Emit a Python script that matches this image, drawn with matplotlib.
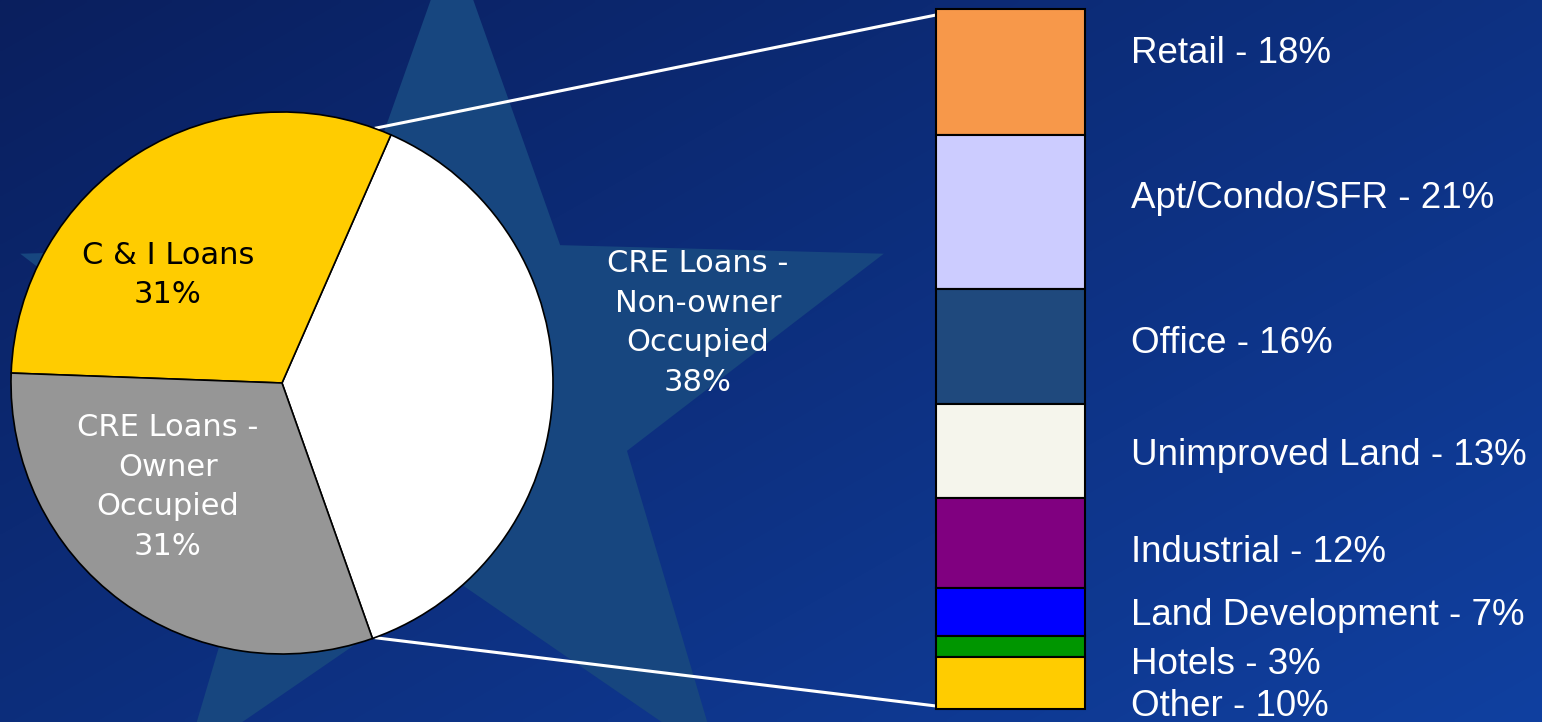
import numpy as np
import matplotlib.pyplot as plt

# loan mix (pie)
pie_values = [38, 31, 31]
pie_colors = ['#FFFFFF', '#FFCC00', '#969696']
pie_text = ['CRE Loans -\nNon-owner\nOccupied\n38%',
            'C & I Loans\n31%',
            'CRE Loans -\nOwner\nOccupied\n31%']
pie_text_color = ['white', 'black', 'white']

# non-owner occupied CRE breakdown, top to bottom
cre_types = ['Retail', 'Apt/Condo/SFR', 'Office', 'Unimproved Land',
             'Industrial', 'Land Development', 'Hotels', 'Other']
cre_pct = [18, 21, 16, 13, 12, 7, 3, 10]
cre_bar = [18, 21.9, 16.4, 13.4, 12.7, 6.9, 3.0, 7.4]   # segment heights as drawn
cre_colors = ['#F7984A', '#CCCCFF', '#1F497D', '#F5F5EC',
              '#800080', '#0000FF', '#009600', '#FFCC00']

W, H = 1542, 722
fig = plt.figure(figsize=(W / 100, H / 100), dpi=100)
ax = fig.add_axes([0, 0, 1, 1])

# background: navy gradient + big star
gx, gy = np.meshgrid(np.linspace(0, 1, 300), np.linspace(0, 1, 150))
t = np.clip(0.55 * gx + 0.45 * gy, 0, 1)[..., None]
c0 = np.array([10, 31, 94]) / 255
c1 = np.array([16, 64, 160]) / 255
ax.imshow(c0 + (c1 - c0) * t, extent=(0, W, H, 0), aspect='auto',
          interpolation='bilinear', zorder=0)

cx, cy, R, r = 452, 394, 454, 184
ang = np.deg2rad(-90 + 36 * np.arange(10))
rad = np.where(np.arange(10) % 2 == 0, R, r)
star = np.c_[cx + rad * np.cos(ang), cy + rad * np.sin(ang)]
ax.fill(star[:, 0], star[:, 1], color='#17467F', zorder=1, lw=0)

# pie (y axis points down, so clockwise here reads counter-clockwise)
pc, pr = (282, 383), 271
ax.pie(pie_values, colors=pie_colors, startangle=70.5, counterclock=False,
       center=pc, radius=pr, frame=True,
       wedgeprops=dict(edgecolor='black', linewidth=1.2, zorder=3))

text_pos = [(698, 323), (168, 275), (168, 487)]
for s, (x, y), c in zip(pie_text, text_pos, pie_text_color):
    ax.text(x, y, s, ha='center', va='center', color=c, fontsize=22,
            family='DejaVu Sans', linespacing=1.45, zorder=5)

ax.set_xlim(0, W)
ax.set_ylim(H, 0)
ax.set_aspect('auto')
ax.axis('off')

# stacked bar
bar_left, bar_top, bar_w, bar_h = 936, 9, 149, 700
bx = fig.add_axes([bar_left / W, 1 - (bar_top + bar_h) / H, bar_w / W, bar_h / H])
bottoms = np.concatenate([[0], np.cumsum(cre_bar)[:-1]])
bx.bar(0.5, cre_bar, bottom=bottoms, width=1, color=cre_colors,
       edgecolor='black', linewidth=1.5, clip_on=False)
bx.set_xlim(0, 1)
bx.set_ylim(sum(cre_bar), 0)
bx.axis('off')

# label baselines (in bar units)
label_base = [7.7, 28.4, 49.0, 64.9, 78.7, 87.7, 94.7, 100.7]
for name, p, yb in zip(cre_types, cre_pct, label_base):
    bx.text(1.31, yb, f'{name} - {p}%', ha='left', va='baseline', color='white',
            fontsize=26.5, family=['Liberation Sans', 'DejaVu Sans'], clip_on=False)

# connector lines from pie edge to bar corners
for a, yb in [(70, bar_top + 6), (-70, bar_top + bar_h - 3)]:
    x0 = pc[0] + pr * np.cos(np.deg2rad(a))
    y0 = pc[1] - pr * np.sin(np.deg2rad(a))
    ax.plot([x0, bar_left], [y0, yb], color='white', lw=2.2, zorder=2,
            solid_capstyle='butt')

fig.savefig('out.png', dpi=100)
